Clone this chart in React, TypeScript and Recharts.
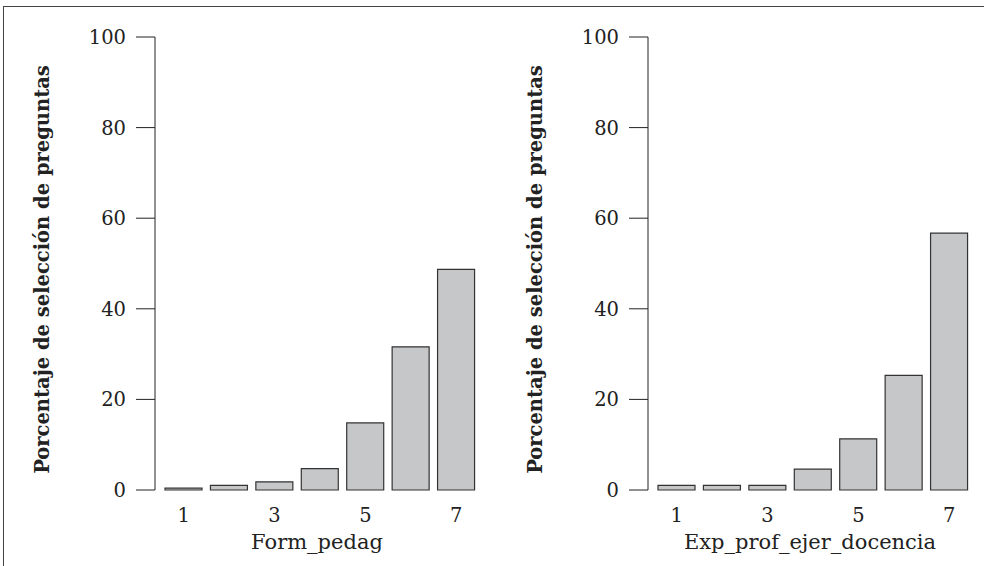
import React from 'react';
import { BarChart, Bar, XAxis, YAxis, Label } from 'recharts';

const categories = ['1', '2', '3', '4', '5', '6', '7'];
const formPedag = [0.4, 1.0, 1.8, 4.7, 14.8, 31.6, 48.7];
const expProfEjerDocencia = [1.0, 1.0, 1.0, 4.6, 11.3, 25.3, 56.7];
const yTicks = [0, 20, 40, 60, 80, 100];
const yLabel = 'Porcentaje de selección de preguntas';

const FONT = '"DejaVu Serif", "Liberation Serif", serif';
const INK = '#222';

const toRows = (values: number[]) => categories.map((cat, i) => ({ cat, value: values[i] }));

// rotated y title, nudged a little below the plot centre like the R output
const YTitle = (props: any) => {
  const vb = props.viewBox || {};
  const cx = (vb.x ?? 0) + 49;
  const cy = (vb.y ?? 0) + (vb.height ?? 0) / 2 + 6;
  return (
    <text
      x={cx}
      y={cy}
      transform={`rotate(-90, ${cx}, ${cy})`}
      textAnchor="middle"
      fill={INK}
      fontSize={19.5}
      fontWeight="bold"
      fontFamily={FONT}
    >
      {yLabel}
    </text>
  );
};

function Panel({ values, xLabel, width }: { values: number[]; xLabel: string; width: number }) {
  return (
    <BarChart
      width={width}
      height={566}
      data={toRows(values)}
      margin={{ top: 37, right: width - 479, bottom: 0, left: 0 }}
      barCategoryGap={4}
    >
      <XAxis
        dataKey="cat"
        axisLine={false}
        tickLine={false}
        tickSize={8}
        tickMargin={10}
        interval={1}
        height={76}
        padding={{ left: 6, right: 0 }}
        tick={{ fill: INK, fontSize: 19.5, fontFamily: FONT }}
        label={{ value: xLabel, position: 'insideBottom', offset: 17, fill: INK, fontSize: 21, fontFamily: FONT }}
      />
      <YAxis
        width={155}
        domain={[0, 100]}
        ticks={yTicks}
        tickSize={19}
        tickMargin={10}
        stroke={INK}
        tick={{ fill: INK, fontSize: 19.5, fontFamily: FONT }}
      >
        <Label content={YTitle} />
      </YAxis>
      <Bar dataKey="value" fill="#c6c7c9" stroke="#333" strokeWidth={1.2} isAnimationActive={false} />
    </BarChart>
  );
}

export default function App() {
  return (
    <div style={{ position: 'absolute', top: 0, left: 0, width: 984, height: 566, background: '#fff', overflow: 'hidden' }}>
      <div style={{ position: 'absolute', top: 6, left: 3, right: 0, bottom: 0, borderTop: '1px solid #444', borderLeft: '1px solid #444' }} />
      <div style={{ position: 'absolute', top: 0, left: 0 }}>
        <Panel values={formPedag} xLabel="Form_pedag" width={492} />
      </div>
      <div style={{ position: 'absolute', top: 0, left: 493 }}>
        <Panel values={expProfEjerDocencia} xLabel="Exp_prof_ejer_docencia" width={491} />
      </div>
    </div>
  );
}
